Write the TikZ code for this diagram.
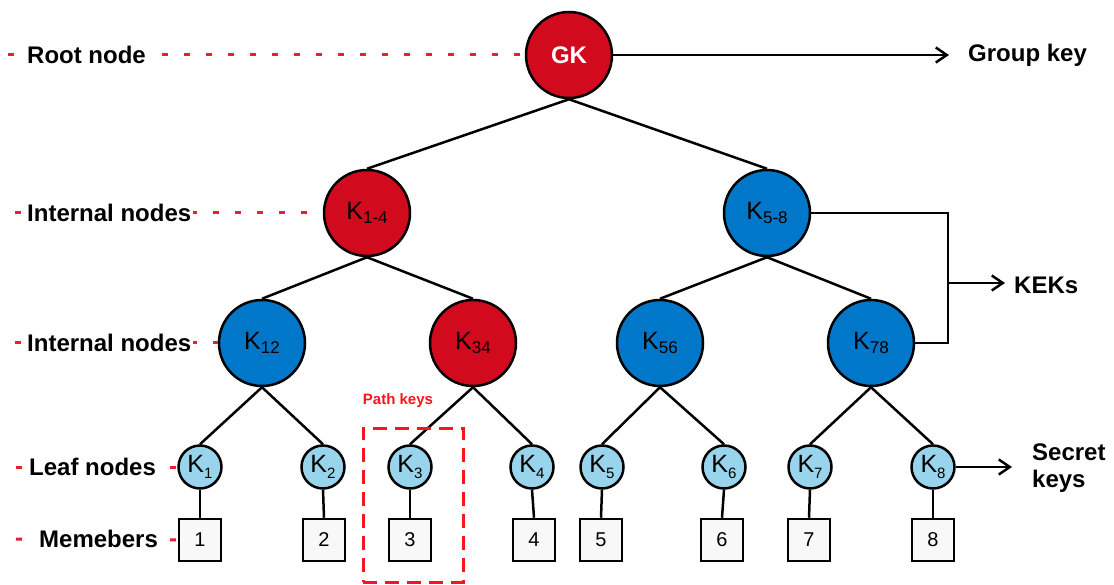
\documentclass[tikz,border=0pt]{standalone}
\usepackage{fontspec}
\setmainfont{Liberation Sans}
\usetikzlibrary{arrows.meta}
\definecolor{kred}{RGB}{210,10,30}
\definecolor{kblue}{RGB}{0,119,200}
\definecolor{klight}{RGB}{152,212,236}
\definecolor{dashred}{RGB}{232,30,50}
\definecolor{pkred}{RGB}{250,20,30}
\definecolor{boxfill}{RGB}{248,248,248}
\newcommand\ksub[1]{\raisebox{-0.35ex}{\fontsize{17}{17}\selectfont #1}}
\newcommand\lsub[1]{\raisebox{-0.4ex}{\fontsize{15}{15}\selectfont #1}}
\begin{document}
\begin{tikzpicture}[x=1pt,y=-1pt,
 big/.style={circle,draw=black,line width=2.5pt,minimum size=86pt,inner sep=0pt,font=\fontsize{25}{25}\selectfont},
 redn/.style={big,fill=kred},
 bluen/.style={big,fill=kblue},
 leafn/.style={circle,draw=black,line width=2.5pt,fill=klight,minimum size=43pt,inner sep=0pt,font=\fontsize{25}{25}\selectfont},
 memb/.style={rectangle,draw=black,line width=2.5pt,fill=boxfill,minimum size=42pt,inner sep=0pt,font=\fontsize{20}{20}\selectfont},
 edge/.style={line width=2.5pt,draw=black},
 guide/.style={draw=dashred,line width=3pt,dash pattern=on 6pt off 16pt},
 lbl/.style={font=\bfseries\fontsize{24}{28}\selectfont,fill=white,inner sep=2pt,anchor=west},
 rlbl/.style={font=\bfseries\fontsize{24}{28}\selectfont,inner sep=0pt,anchor=west},
 arr/.style={line width=2.5pt,-{Straight Barb[length=11pt,width=15pt,line width=2.5pt]}}
]
\useasboundingbox[fill=white] (0,0) rectangle (1114,585);

% nodes
\node[redn,font=\bfseries\fontsize{24}{24}\selectfont,text=white] (gk) at (569,55) {GK};
\node[redn] (k14) at (367,213) {K\ksub{1-4}};
\node[bluen] (k58) at (767,213) {K\ksub{5-8}};
\node[bluen] (k12) at (262,343) {K\ksub{12}};
\node[redn] (k34) at (473,343) {K\ksub{34}};
\node[bluen] (k56) at (660,343) {K\ksub{56}};
\node[bluen] (k78) at (871,343) {K\ksub{78}};

\node[leafn] (l1) at (200,467) {K\lsub{1}};
\node[leafn] (l2) at (323,467) {K\lsub{2}};
\node[leafn] (l3) at (410,467) {K\lsub{3}};
\node[leafn] (l4) at (532,467) {K\lsub{4}};
\node[leafn] (l5) at (602,467) {K\lsub{5}};
\node[leafn] (l6) at (724,467) {K\lsub{6}};
\node[leafn] (l7) at (810,467) {K\lsub{7}};
\node[leafn] (l8) at (933,467) {K\lsub{8}};

\node[memb] (m1) at (200,540) {1};
\node[memb] (m2) at (324,540) {2};
\node[memb] (m3) at (410,540) {3};
\node[memb] (m4) at (534,540) {4};
\node[memb] (m5) at (601,540) {5};
\node[memb] (m6) at (722,540) {6};
\node[memb] (m7) at (809,540) {7};
\node[memb] (m8) at (933,540) {8};

% tree edges
\draw[edge] (gk.south) -- (k14.north);
\draw[edge] (gk.south) -- (k58.north);
\draw[edge] (k14.south) -- (k12.north);
\draw[edge] (k14.south) -- (k34.north);
\draw[edge] (k58.south) -- (k56.north);
\draw[edge] (k58.south) -- (k78.north);
\draw[edge] (k12.south) -- (l1.north);
\draw[edge] (k12.south) -- (l2.north);
\draw[edge] (k34.south) -- (l3.north);
\draw[edge] (k34.south) -- (l4.north);
\draw[edge] (k56.south) -- (l5.north);
\draw[edge] (k56.south) -- (l6.north);
\draw[edge] (k78.south) -- (l7.north);
\draw[edge] (k78.south) -- (l8.north);
\foreach \i in {1,...,8} {\draw[edge] (l\i.south) -- (m\i.north);}

% right side
\coordinate (gkt) at (949,55);
\draw[arr] (gk.east) -- (gkt);
\node[rlbl] (gkl) at (968,55) {Group key};

\coordinate (kb) at (948,343);
\coordinate (kmid) at (948,283);
\coordinate (kt) at (1005,283);
\draw[edge] (k58.east) -| (kb) -- (k78.east);
\draw[arr] (kmid) -- (kt);
\node[rlbl] (kekl) at (1014,285) {KEKs};

\coordinate (st) at (1012,467);
\draw[arr] (l8.east) -- (st);
\node[rlbl,align=left,font=\bfseries\fontsize{24}{27}\selectfont] (sk) at (1032,468) {Secret\\keys};

% left guides
\coordinate (g1) at (8,55);
\coordinate (g2) at (15,213);
\coordinate (g3) at (15,343);
\coordinate (g4) at (16,467);
\coordinate (g5) at (16,539);
\draw[guide] (g1) -- (gk.west);
\draw[guide] (g2) -- (k14.west);
\draw[guide] (g3) -- (k12.west);
\draw[guide] (g4) -- (l1.west);
\draw[guide] (g5) -- (m1.west);
\node[lbl] (t1) at (25,55) {Root node};
\node[lbl] (t2) at (25,213) {Internal nodes};
\node[lbl] (t3) at (25,343) {Internal nodes};
\node[lbl] (t4) at (27,467) {Leaf nodes};
\node[lbl] (t5) at (37,539) {Memebers};

% path keys
\node[draw=pkred,line width=3pt,dash pattern=on 14pt off 8pt,minimum width=100pt,minimum height=154pt,inner sep=0pt] (pk) at (413,505) {};
\node[text=pkred,font=\bfseries\fontsize{15}{15}\selectfont] (pkl) at (398,401) {Path keys};
\end{tikzpicture}
\end{document}
